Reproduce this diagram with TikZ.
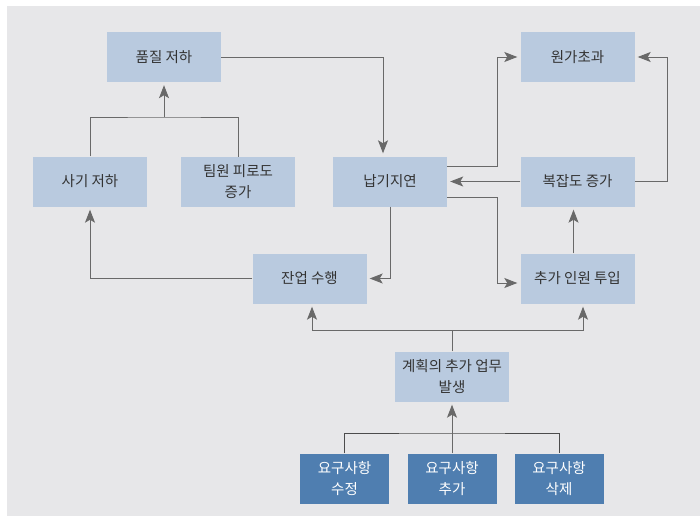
\documentclass[tikz,border=0pt]{standalone}
\usepackage{fontspec}
\setmainfont{Noto Sans CJK KR}
\usetikzlibrary{arrows.meta,positioning}
\definecolor{bggrey}{RGB}{231,231,233}
\definecolor{boxblue}{RGB}{185,202,223}
\definecolor{reqblue}{RGB}{79,126,176}
\definecolor{linegrey}{RGB}{105,105,105}

\begin{document}
\begin{tikzpicture}[x=1pt,y=-1pt,
  box/.style={fill=boxblue,text=black!80,minimum width=114pt,minimum height=50pt,align=center,inner sep=2pt,font=\fontsize{14.5}{21}\selectfont},
  reqbox/.style={box,fill=reqblue,text=white,minimum width=89pt},
  conn/.style={draw=linegrey,line width=0.9pt},
  arr/.style={conn,-{Stealth[length=13pt,width=10pt,inset=3pt,fill=linegrey]},shorten >=3pt}]
% background
\fill[white] (0,0) rectangle (700,516);
\fill[bggrey] (7,6) rectangle (700,516);
% top row
\node[box] (quality) at (164,57) {품질 저하};
\node[box] (cost) at (577.5,57) {원가초과};
% middle row
\node[box] (morale) at (90,181.5) {사기 저하};
\node[box] (fatigue) at (238,182) {팀원 피로도\\증가};
\node[box] (delay) at (390,181.5) {납기지연};
\node[box] (complex) at (577.5,181.5) {복잡도 증가};
% lower rows
\node[box] (overtime) at (309.5,278.5) {잔업 수행};
\node[box] (staff) at (577.5,278.5) {추가 인원 투입};
\node[box] (extra) at (452,376.5) {계획의 추가 업무\\발생};
% requirement changes
\node[reqbox] (reqmod) at (344.5,478.5) {요구사항\\수정};
\node[reqbox] (reqadd) at (452,478.5) {요구사항\\추가};
\node[reqbox] (reqdel) at (559,478.5) {요구사항\\삭제};
% junctions
\coordinate (jq) at (164,117);
\coordinate (je) at (452,330);
\coordinate (jr) at (452,433);
% connectors
\draw[arr] (quality.east) -| ([xshift=-7pt]delay.north);
\draw[conn] (morale.north) |- (jq) -| (fatigue.north);
\draw[arr] (jq) -- (quality.south);
\draw[arr] (overtime.west) -| (morale.south);
\draw[arr] ([yshift=15pt]delay.east) -- ++(50,0) |- (cost.west);
\draw[arr] (complex.west) -- (delay.east);
\draw[arr] (complex.east) -- ++(33,0) |- (cost.east);
\draw[arr] ([yshift=-16pt]delay.east) -- ++(50,0) |- ([yshift=-4.5pt]staff.west);
\draw[arr] (delay.south) |- (overtime.east);
\draw[arr] ([xshift=-4pt]staff.north) -- ([xshift=-4pt]complex.south);
\draw[conn] (extra.north) -- (je);
\draw[arr] (je) -| ([xshift=2.5pt]overtime.south);
\draw[arr] (je) -| ([xshift=5.5pt]staff.south);
\draw[conn,draw=black!70] (reqmod.north) |- (jr) -| (reqdel.north);
\draw[arr] (reqadd.north) -- (extra.south);
\end{tikzpicture}
\end{document}
